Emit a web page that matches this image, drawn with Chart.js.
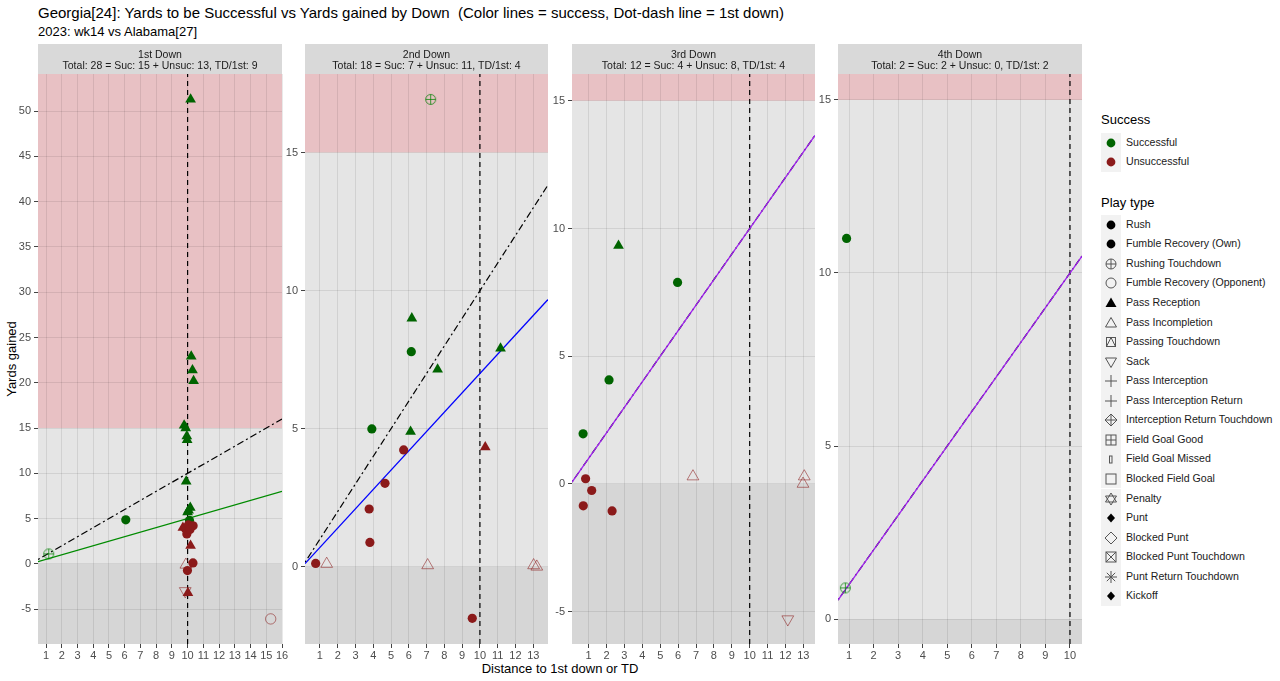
<!DOCTYPE html>
<html lang="en">
<head>
<meta charset="UTF-8">
<title>Yards to be Successful vs Yards gained by Down</title>
<script src="https://cdn.jsdelivr.net/npm/chart.js"></script>
<style>
  body { margin: 0; width: 1280px; height: 681px; background: #fff; position: relative; overflow: hidden;
         font-family: "Liberation Sans", Arial, sans-serif; color: #000; }
  .abs { position: absolute; white-space: nowrap; }
  canvas { position: absolute; }
  #title { left: 38px; top: 4px; font-size: 15px; line-height: 18px; }
  #subtitle { left: 38px; top: 24px; font-size: 13px; line-height: 16px; }
  #ytitle { left: 11px; top: 359px; font-size: 13px; transform: translate(-50%, -50%) rotate(-90deg); }
  #xtitle { left: 560px; top: 668px; font-size: 13px; transform: translate(-50%, -50%); }
  .lgTitle { font-size: 13px; line-height: 16px; left: 1101px; }
  .lgRow { left: 1101px; height: 19.5px; font-size: 10.6px; color: #1a1a1a; }
  .lgKey { position: absolute; left: 0; top: 0; width: 20px; height: 19.5px; background: #f2f2f2; }
  .lgKey svg { position: absolute; left: 3px; top: 3px; }
  .lgLabel { position: absolute; left: 25px; top: 0; line-height: 19.5px; }
</style>
</head>
<body>
<div class="abs" id="title">Georgia[24]: Yards to be Successful vs Yards gained by Down&nbsp; (Color lines = success, Dot-dash line = 1st down)</div>
<div class="abs" id="subtitle">2023: wk14 vs Alabama[27]</div>
<div class="abs" id="ytitle">Yards gained</div>
<div class="abs" id="xtitle">Distance to 1st down or TD</div>
<div id="legend"></div>

<script>
// ---- data ----
const downNames = ['1st Down', '2nd Down', '3rd Down', '4th Down'];
const downTotals = [
  'Total: 28 = Suc: 15 + Unsuc: 13, TD/1st: 9',
  'Total: 18 = Suc: 7 + Unsuc: 11, TD/1st: 4',
  'Total: 12 = Suc: 4 + Unsuc: 8, TD/1st: 4',
  'Total: 2 = Suc: 2 + Unsuc: 0, TD/1st: 2'
];

// [distance to go, yards gained, play type, successful]
const down1Plays = [
  [1.17, 1.1, 'Rushing Touchdown', 1],
  [6.07, 4.86, 'Rush', 1],
  [10.12, 4.8, 'Rush', 1],
  [10.19, 51.3, 'Pass Reception', 1],
  [10.23, 22.9, 'Pass Reception', 1],
  [10.31, 21.4, 'Pass Reception', 1],
  [10.38, 20.2, 'Pass Reception', 1],
  [9.78, 15.3, 'Pass Reception', 1],
  [9.88, 15.0, 'Pass Reception', 1],
  [9.95, 14.1, 'Pass Reception', 1],
  [9.97, 13.7, 'Pass Reception', 1],
  [9.91, 9.1, 'Pass Reception', 1],
  [10.06, 5.9, 'Pass Reception', 1],
  [10.17, 6.2, 'Pass Reception', 1],
  [10.0, 5.7, 'Pass Reception', 1],
  [15.28, -6.08, 'Fumble Recovery (Opponent)', 0],
  [9.85, -3.0, 'Sack', 0],
  [10.02, -3.2, 'Pass Reception', 0],
  [9.89, -0.1, 'Pass Incompletion', 0],
  [9.99, -0.74, 'Rush', 0],
  [10.34, 0.1, 'Rush', 0],
  [10.19, 2.0, 'Pass Reception', 0],
  [9.7, 4.0, 'Pass Reception', 0],
  [9.85, 3.9, 'Rush', 0],
  [9.95, 3.3, 'Rush', 0],
  [10.05, 4.3, 'Rush', 0],
  [10.15, 3.8, 'Rush', 0],
  [10.35, 4.2, 'Rush', 0]
];

const down2Plays = [
  [6.14, 7.79, 'Rush', 1],
  [6.17, 9.0, 'Pass Reception', 1],
  [7.62, 7.15, 'Pass Reception', 1],
  [11.16, 7.91, 'Pass Reception', 1],
  [3.92, 4.99, 'Rush', 1],
  [6.1, 4.89, 'Pass Reception', 1],
  [7.23, 16.93, 'Rushing Touchdown', 1],
  [0.76, 0.12, 'Rush', 0],
  [1.38, 0.1, 'Pass Incompletion', 0],
  [3.77, 2.09, 'Rush', 0],
  [3.81, 0.88, 'Rush', 0],
  [4.66, 3.02, 'Rush', 0],
  [5.71, 4.23, 'Rush', 0],
  [10.3, 4.33, 'Pass Reception', 0],
  [9.57, -1.87, 'Rush', 0],
  [7.06, 0.05, 'Pass Incompletion', 0],
  [13.02, 0.05, 'Pass Incompletion', 0],
  [13.2, 0.0, 'Pass Incompletion', 0]
];

const down3Plays = [
  [2.67, 9.33, 'Pass Reception', 1],
  [5.97, 7.89, 'Rush', 1],
  [2.14, 4.07, 'Rush', 1],
  [0.69, 1.96, 'Rush', 1],
  [0.83, 0.2, 'Rush', 0],
  [1.17, -0.26, 'Rush', 0],
  [0.7, -0.86, 'Rush', 0],
  [2.31, -1.06, 'Rush', 0],
  [6.83, 0.29, 'Pass Incompletion', 0],
  [13.05, 0.29, 'Pass Incompletion', 0],
  [12.98, 0.0, 'Pass Incompletion', 0],
  [12.13, -5.3, 'Sack', 0]
];

const down4Plays = [
  [0.9, 11.0, 'Rush', 1],
  [0.85, 0.9, 'Rushing Touchdown', 1]
];

const allPlays = [down1Plays, down2Plays, down3Plays, down4Plays];

// success line slope per down (yards needed = slope * distance), 1st-down line slope is 1
const successSlope = [0.5, 0.7, 1, 1];
const firstDownSlope = 1;
const firstDownMark = 10;
const successZone = 15;

const xRanges = [[0.49, 16.0], [0.16, 13.83], [0.07, 13.65], [0.55, 10.49]];
const yRanges = [[-8.85, 54.1], [-2.8, 17.85], [-6.27, 16.05], [-0.72, 15.75]];
const xTicks = [
  [1, 2, 3, 4, 5, 6, 7, 8, 9, 10, 11, 12, 13, 14, 15, 16],
  [1, 2, 3, 4, 5, 6, 7, 8, 9, 10, 11, 12, 13],
  [1, 2, 3, 4, 5, 6, 7, 8, 9, 10, 11, 12, 13],
  [1, 2, 3, 4, 5, 6, 7, 8, 9, 10]
];
const yTicks = [
  [-5, 0, 5, 10, 15, 20, 25, 30, 35, 40, 45, 50],
  [0, 5, 10, 15],
  [-5, 0, 5, 10, 15],
  [0, 5, 10, 15]
];

const successNames = ['Successful', 'Unsuccessful'];
const playTypes = ['Rush', 'Fumble Recovery (Own)', 'Rushing Touchdown', 'Fumble Recovery (Opponent)',
  'Pass Reception', 'Pass Incompletion', 'Passing Touchdown', 'Sack', 'Pass Interception',
  'Pass Interception Return', 'Interception Return Touchdown', 'Field Goal Good', 'Field Goal Missed',
  'Blocked Field Goal', 'Penalty', 'Punt', 'Blocked Punt', 'Blocked Punt Touchdown',
  'Punt Return Touchdown', 'Kickoff'];

// ---- styling ----
const panelBox = [[38, 282], [305, 548], [572, 815], [838, 1082]];
const plotTop = 74, plotBottom = 644, stripH = 30, yAxisW = 26, xAxisH = 22, padRight = 12;
const lineColors = ['#008B00', '#0000FF', '#A020F0', '#A020F0'];
const sucColor = ['#8B1A1A', '#006400'];
const sucHollow = ['rgba(139,26,26,0.55)', 'rgba(0,100,0,0.55)'];
const tdColor = ['rgba(139,26,26,0.7)', 'rgba(0,128,0,0.75)'];

function circlePlus(color, r) {
  const c = document.createElement('canvas');
  const s = Math.ceil(r * 2 + 3);
  c.width = c.height = s;
  const g = c.getContext('2d');
  g.strokeStyle = color;
  g.lineWidth = 1;
  g.beginPath();
  g.arc(s / 2, s / 2, r, 0, Math.PI * 2);
  g.moveTo(s / 2 - r, s / 2); g.lineTo(s / 2 + r, s / 2);
  g.moveTo(s / 2, s / 2 - r); g.lineTo(s / 2, s / 2 + r);
  g.stroke();
  return c;
}
const tdIcons = [circlePlus(tdColor[0], 5), circlePlus(tdColor[1], 5)];

// [pointStyle, filled, rotation, radius]
const typeStyle = {
  'Rush': ['circle', true, 0, 4.6],
  'Fumble Recovery (Own)': ['circle', true, 0, 4.6],
  'Rushing Touchdown': ['td', false, 0, 5],
  'Fumble Recovery (Opponent)': ['circle', false, 0, 5.2],
  'Pass Reception': ['triangle', true, 0, 6.2],
  'Pass Incompletion': ['triangle', false, 0, 6.8],
  'Sack': ['triangle', false, 180, 6.8]
};
function st(c) { return c.raw ? typeStyle[c.raw.type] : typeStyle['Rush']; }

const panelBg = {
  id: 'panelBg',
  beforeDraw(chart, args, opts) {
    const { ctx, chartArea: a } = chart;
    const y = chart.scales.y;
    const yRed = Math.max(a.top, y.getPixelForValue(successZone));
    const yZero = y.getPixelForValue(0);
    ctx.save();
    ctx.fillStyle = '#E8C1C4';
    ctx.fillRect(a.left, a.top, a.width, yRed - a.top);
    ctx.fillStyle = '#E5E5E5';
    ctx.fillRect(a.left, yRed, a.width, yZero - yRed);
    ctx.fillStyle = '#D6D6D6';
    ctx.fillRect(a.left, yZero, a.width, a.bottom - yZero);
    ctx.fillStyle = '#D9D9D9';
    ctx.fillRect(a.left, a.top - stripH, a.width, stripH);
    ctx.fillStyle = '#1A1A1A';
    ctx.font = '10.5px "Liberation Sans", Arial, sans-serif';
    ctx.textAlign = 'center';
    ctx.textBaseline = 'middle';
    const cx = (a.left + a.right) / 2;
    ctx.fillText(opts.line1, cx, a.top - 19);
    ctx.fillText(opts.line2, cx, a.top - 8);
    ctx.restore();
  }
};

function makePanel(i) {
  const [L, R] = panelBox[i];
  const cv = document.createElement('canvas');
  const w = R - L + yAxisW + padRight;
  const h = plotBottom - plotTop + stripH + xAxisH;
  cv.width = w; cv.height = h;
  cv.style.left = (L - yAxisW) + 'px';
  cv.style.top = (plotTop - stripH) + 'px';
  document.body.appendChild(cv);

  const [x0, x1] = xRanges[i];
  const [y0, y1] = yRanges[i];
  const pts = allPlays[i].map(p => ({ x: p[0], y: p[1], type: p[2], suc: p[3] }));
  const line = (slope) => [{ x: x0, y: slope * x0 }, { x: x1, y: slope * x1 }];

  new Chart(cv, {
    type: 'scatter',
    data: {
      datasets: [
        {
          data: pts,
          order: 0,
          pointStyle: c => {
            const s = st(c);
            return s[0] === 'td' ? tdIcons[c.raw ? c.raw.suc : 1] : s[0];
          },
          pointRotation: c => st(c)[2],
          pointRadius: c => st(c)[3],
          pointHoverRadius: c => st(c)[3],
          pointBorderWidth: c => st(c)[1] ? 0 : 1,
          pointBackgroundColor: c => {
            const suc = c.raw ? c.raw.suc : 1;
            return st(c)[1] ? sucColor[suc] : 'rgba(0,0,0,0)';
          },
          pointBorderColor: c => sucHollow[c.raw ? c.raw.suc : 1]
        },
        {
          type: 'line', data: line(successSlope[i]), order: 1,
          borderColor: lineColors[i], borderWidth: 1.3, pointRadius: 0, fill: false
        },
        {
          type: 'line', data: line(firstDownSlope), order: 2,
          borderColor: '#000', borderWidth: 1.2, borderDash: [2, 3, 7, 3], pointRadius: 0, fill: false
        },
        {
          type: 'line', data: [{ x: firstDownMark, y: y0 }, { x: firstDownMark, y: y1 }], order: 3,
          borderColor: '#000', borderWidth: 1.2, borderDash: [5, 4], pointRadius: 0, fill: false
        }
      ]
    },
    options: {
      responsive: false,
      animation: false,
      devicePixelRatio: 1,
      layout: { padding: { top: stripH, right: padRight, left: 0, bottom: 0 } },
      plugins: {
        legend: { display: false },
        tooltip: { enabled: false },
        panelBg: { line1: downNames[i], line2: downTotals[i] }
      },
      scales: {
        x: {
          type: 'linear', min: x0, max: x1,
          afterBuildTicks: s => { s.ticks = xTicks[i].map(v => ({ value: v })); },
          afterFit: s => { s.height = xAxisH; s.paddingLeft = 0; s.paddingRight = 0; },
          grid: { color: 'rgba(0,0,0,0.085)', lineWidth: 1, tickColor: '#444', tickLength: 4 },
          border: { display: false },
          ticks: { color: '#4D4D4D', font: { size: 11, family: '"Liberation Sans", Arial' }, padding: 1, maxRotation: 0, autoSkip: false }
        },
        y: {
          type: 'linear', min: y0, max: y1,
          afterBuildTicks: s => { s.ticks = yTicks[i].map(v => ({ value: v })); },
          afterFit: s => { s.width = yAxisW; s.paddingTop = 0; s.paddingBottom = 0; },
          grid: { color: 'rgba(0,0,0,0.085)', lineWidth: 1, tickColor: '#444', tickLength: 4 },
          border: { display: false },
          ticks: { color: '#4D4D4D', font: { size: 11, family: '"Liberation Sans", Arial' }, padding: 3, autoSkip: false }
        }
      }
    },
    plugins: [panelBg]
  });
}

for (let i = 0; i < 4; i++) makePanel(i);

// ---- legend ----
const playIcons = ['dot', 'dot', 'circlePlus', 'circle', 'tri', 'triOpen', 'squareTri', 'triDown', 'plus', 'plus',
  'diamondPlus', 'squarePlus', 'thin', 'square', 'star', 'diamondSmall', 'diamond', 'squareX', 'asterisk', 'diamondSmall'];

function icon(kind, fillColor) {
  const k = fillColor || '#000', h = '#555';
  let s = '';
  switch (kind) {
    case 'dot': s = `<circle cx="7" cy="7" r="4.4" fill="${k}"/>`; break;
    case 'circle': s = `<circle cx="7" cy="7" r="5" fill="none" stroke="${h}"/>`; break;
    case 'circlePlus': s = `<circle cx="7" cy="7" r="5" fill="none" stroke="${h}"/><path d="M2 7H12M7 2V12" stroke="${h}"/>`; break;
    case 'tri': s = `<path d="M7 1.5L12.5 11H1.5Z" fill="${k}"/>`; break;
    case 'triOpen': s = `<path d="M7 1.5L12.5 11H1.5Z" fill="none" stroke="${h}"/>`; break;
    case 'triDown': s = `<path d="M7 12.5L12.5 3H1.5Z" fill="none" stroke="${h}"/>`; break;
    case 'squareTri': s = `<rect x="2.5" y="2.5" width="9" height="9" fill="none" stroke="${h}"/><path d="M7 2.5L11.5 11.5H2.5Z" fill="none" stroke="${h}"/>`; break;
    case 'plus': s = `<path d="M1 7H13M7 1V13" stroke="${h}"/>`; break;
    case 'diamondPlus': s = `<path d="M7 1L13 7L7 13L1 7Z" fill="none" stroke="${h}"/><path d="M1 7H13M7 1V13" stroke="${h}"/>`; break;
    case 'squarePlus': s = `<rect x="2" y="2" width="10" height="10" fill="none" stroke="${h}"/><path d="M2 7H12M7 2V12" stroke="${h}"/>`; break;
    case 'thin': s = `<rect x="5.5" y="4" width="2.5" height="7" fill="none" stroke="${h}"/>`; break;
    case 'square': s = `<rect x="2" y="2" width="10" height="10" fill="none" stroke="${h}"/>`; break;
    case 'star': s = `<path d="M7 1L12.5 10H1.5Z M7 13L12.5 4H1.5Z" fill="none" stroke="${h}"/>`; break;
    case 'diamondSmall': s = `<path d="M7 2.5L11 7L7 11.5L3 7Z" fill="${k}"/>`; break;
    case 'diamond': s = `<path d="M7 1L13 7L7 13L1 7Z" fill="none" stroke="${h}"/>`; break;
    case 'squareX': s = `<rect x="2" y="2" width="10" height="10" fill="none" stroke="${h}"/><path d="M2 2L12 12M12 2L2 12" stroke="${h}"/>`; break;
    case 'asterisk': s = `<path d="M1 7H13M7 1V13M2.8 2.8L11.2 11.2M11.2 2.8L2.8 11.2" stroke="${h}"/>`; break;
  }
  return `<svg width="14" height="14" viewBox="0 0 14 14">${s}</svg>`;
}

let lg = '';
lg += `<div class="abs lgTitle" style="top:112px">Success</div>`;
successNames.forEach((n, j) => {
  const top = 132.5 + j * 19.5;
  lg += `<div class="abs lgRow" style="top:${top}px"><div class="lgKey">${icon('dot', sucColor[1 - j])}</div><div class="lgLabel">${n}</div></div>`;
});
lg += `<div class="abs lgTitle" style="top:195px">Play type</div>`;
playTypes.forEach((n, j) => {
  const top = 214.8 + j * 19.55;
  lg += `<div class="abs lgRow" style="top:${top}px"><div class="lgKey">${icon(playIcons[j])}</div><div class="lgLabel">${n}</div></div>`;
});
document.getElementById('legend').innerHTML = lg;
</script>
</body>
</html>
